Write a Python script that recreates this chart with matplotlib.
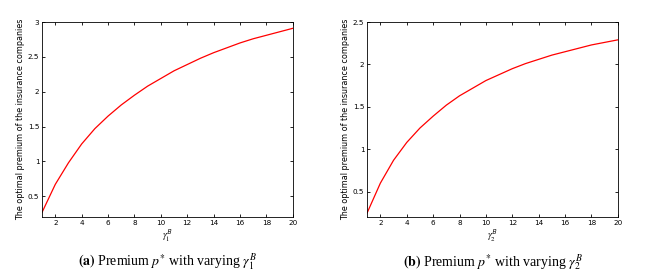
import matplotlib.pyplot as plt

plt.rcParams['mathtext.fontset'] = 'stix'

# gamma^B values on the x axis
gamma = [1, 2, 3, 4, 5, 6, 7, 8, 9, 10, 11, 12, 13, 14, 15, 16, 17, 18, 19, 20]

# optimal premium, panel (a) varying gamma_1^B
premium_a = [0.27, 0.67, 0.98, 1.25, 1.47, 1.65, 1.81, 1.95, 2.08, 2.19,
             2.30, 2.39, 2.48, 2.56, 2.63, 2.70, 2.76, 2.81, 2.86, 2.91]
# optimal premium, panel (b) varying gamma_2^B
premium_b = [0.25, 0.60, 0.87, 1.08, 1.25, 1.39, 1.52, 1.63, 1.72, 1.81,
             1.88, 1.95, 2.01, 2.06, 2.11, 2.15, 2.19, 2.23, 2.26, 2.29]

xticks = [2, 4, 6, 8, 10, 12, 14, 16, 18, 20]
yticks_a = [0.5, 1, 1.5, 2, 2.5, 3]
yticks_b = [0.5, 1, 1.5, 2, 2.5]

fig = plt.figure(figsize=(6.58, 2.79), dpi=100)

panels = [
    (0.064, premium_a, (0.2, 3.0), yticks_a, 'a', '1'),
    (0.558, premium_b, (0.2, 2.5), yticks_b, 'b', '2'),
]

for left, vals, ylim, yt, tag, idx in panels:
    ax = fig.add_axes([left, 0.222, 0.381, 0.699])
    ax.plot(gamma, vals, color='red', linewidth=0.9)
    ax.set_xlim(1, 20)
    ax.set_ylim(*ylim)
    ax.set_xticks(xticks)
    ax.set_yticks(yt)
    ax.set_yticklabels([f'{v:g}' for v in yt])
    ax.tick_params(direction='in', length=2.5, width=0.6, labelsize=5.2,
                   top=True, right=True, pad=2)
    for s in ax.spines.values():
        s.set_linewidth(0.6)
    ax.set_xlabel(r'$\gamma_{%s}^{\mathsf{B}}$' % idx, fontsize=7, labelpad=1)
    ax.set_ylabel('The optimal premium of the insurance companies',
                  fontsize=5.8, labelpad=2)
    ax.text(0.5, -0.235, r'$\mathbf{(%s)}$ Premium $p^{*}$ with varying $\gamma_{%s}^{B}$' % (tag, idx),
            transform=ax.transAxes, ha='center', va='center', fontsize=10,
            family='Liberation Serif')

fig.savefig('out.png', dpi=100)
